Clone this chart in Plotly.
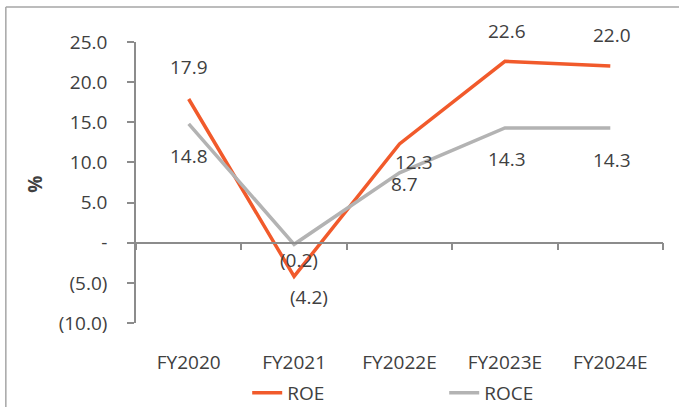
import plotly.graph_objects as go

# Return ratios by fiscal year (%)
years = ["FY2020", "FY2021", "FY2022E", "FY2023E", "FY2024E"]
roe = [17.9, -4.2, 12.3, 22.6, 22.0]
roce = [14.8, -0.2, 8.7, 14.3, 14.3]

y_ticks = [-10, -5, 0, 5, 10, 15, 20, 25]

# Pixel offsets for the value labels of each series (x, y)
roe_label_shift = [(0, 32), (15, -21), (14, -18), (2, 30), (2, 31)]
roce_label_shift = [(0, -32), (5, -16), (5, -11), (2, -31), (2, -32)]

ROE_COLOR = "#F15A2B"
ROCE_COLOR = "#B3B3B3"
TEXT_COLOR = "#404040"
AXIS_COLOR = "#8C8C8C"
FONT = "Open Sans"


def fmt(v):
    if v == 0:
        return "-"
    if v < 0:
        return f"({abs(v):.1f})"
    return f"{v:.1f}"


fig = go.Figure()
fig.add_trace(go.Scatter(x=years, y=roe, name="ROE", mode="lines",
                         line=dict(color=ROE_COLOR, width=3.5)))
fig.add_trace(go.Scatter(x=years, y=roce, name="ROCE", mode="lines",
                         line=dict(color=ROCE_COLOR, width=3.5)))

annotations = []
for series, shifts in ((roe, roe_label_shift), (roce, roce_label_shift)):
    for yr, v, (dx, dy) in zip(years, series, shifts):
        annotations.append(dict(
            x=yr, y=v, xref="x", yref="y", text=fmt(v), showarrow=False,
            xshift=dx, yshift=dy,
            font=dict(family=FONT, size=19, color=TEXT_COLOR)))

# Axis title
annotations.append(dict(
    x=-0.192, y=0.495, xref="paper", yref="paper", text="<b>%</b>",
    showarrow=False, textangle=-90, xanchor="center", yanchor="middle",
    font=dict(family=FONT, size=19, color=TEXT_COLOR)))

y_min, y_max = y_ticks[0], y_ticks[-1]

fig.update_layout(
    width=679, height=407,
    margin=dict(l=136, r=16, t=42, b=84, autoexpand=False),
    paper_bgcolor="white", plot_bgcolor="white",
    font=dict(family=FONT, size=19, color=TEXT_COLOR),
    showlegend=True,
    legend=dict(orientation="h", x=0.211, xanchor="left", y=-0.249,
                yanchor="middle", entrywidth=152, entrywidthmode="pixels",
                font=dict(family=FONT, size=19, color=TEXT_COLOR),
                tracegroupgap=0),
    annotations=annotations,
    xaxis=dict(
        type="category", range=[-0.5, len(years) - 0.5],
        showline=False, showgrid=False, zeroline=False, ticks="",
        ticklabelstandoff=26,
        tickfont=dict(family=FONT, size=19, color=TEXT_COLOR)),
    # Category axis line drawn across the zero level
    xaxis2=dict(
        overlaying="x", anchor="free",
        position=(0 - y_min) / (y_max - y_min),
        range=[-0.5, len(years) - 0.5],
        showline=True, linecolor=AXIS_COLOR, linewidth=1.5,
        ticks="outside", ticklen=7, tickcolor=AXIS_COLOR, tickwidth=1.5,
        tickvals=[i - 0.5 for i in range(len(years) + 1)],
        showticklabels=False, showgrid=False, zeroline=False),
    yaxis=dict(
        range=[y_min, y_max],
        tickvals=y_ticks, ticktext=[fmt(v) for v in y_ticks],
        showline=True, linecolor=AXIS_COLOR, linewidth=1.5,
        ticks="outside", ticklen=7, tickcolor=AXIS_COLOR, tickwidth=1.5,
        ticklabelstandoff=16,
        showgrid=False, zeroline=False,
        tickfont=dict(family=FONT, size=19, color=TEXT_COLOR)),
    shapes=[
        dict(type="line", xref="paper", yref="paper",
             x0=-0.247, x1=1.1, y0=1.1246, y1=1.1246,
             line=dict(color="#A6A6A6", width=1.5)),
        dict(type="line", xref="paper", yref="paper",
             x0=-0.247, x1=-0.247, y0=1.1246, y1=-0.4,
             line=dict(color="#A6A6A6", width=1.5)),
    ],
)

# Invisible point that keeps the zero-level axis active
fig.add_trace(go.Scatter(x=[0], y=[0], xaxis="x2", mode="markers",
                         marker=dict(opacity=0), showlegend=False,
                         hoverinfo="skip"))

fig.write_html("out.html")
